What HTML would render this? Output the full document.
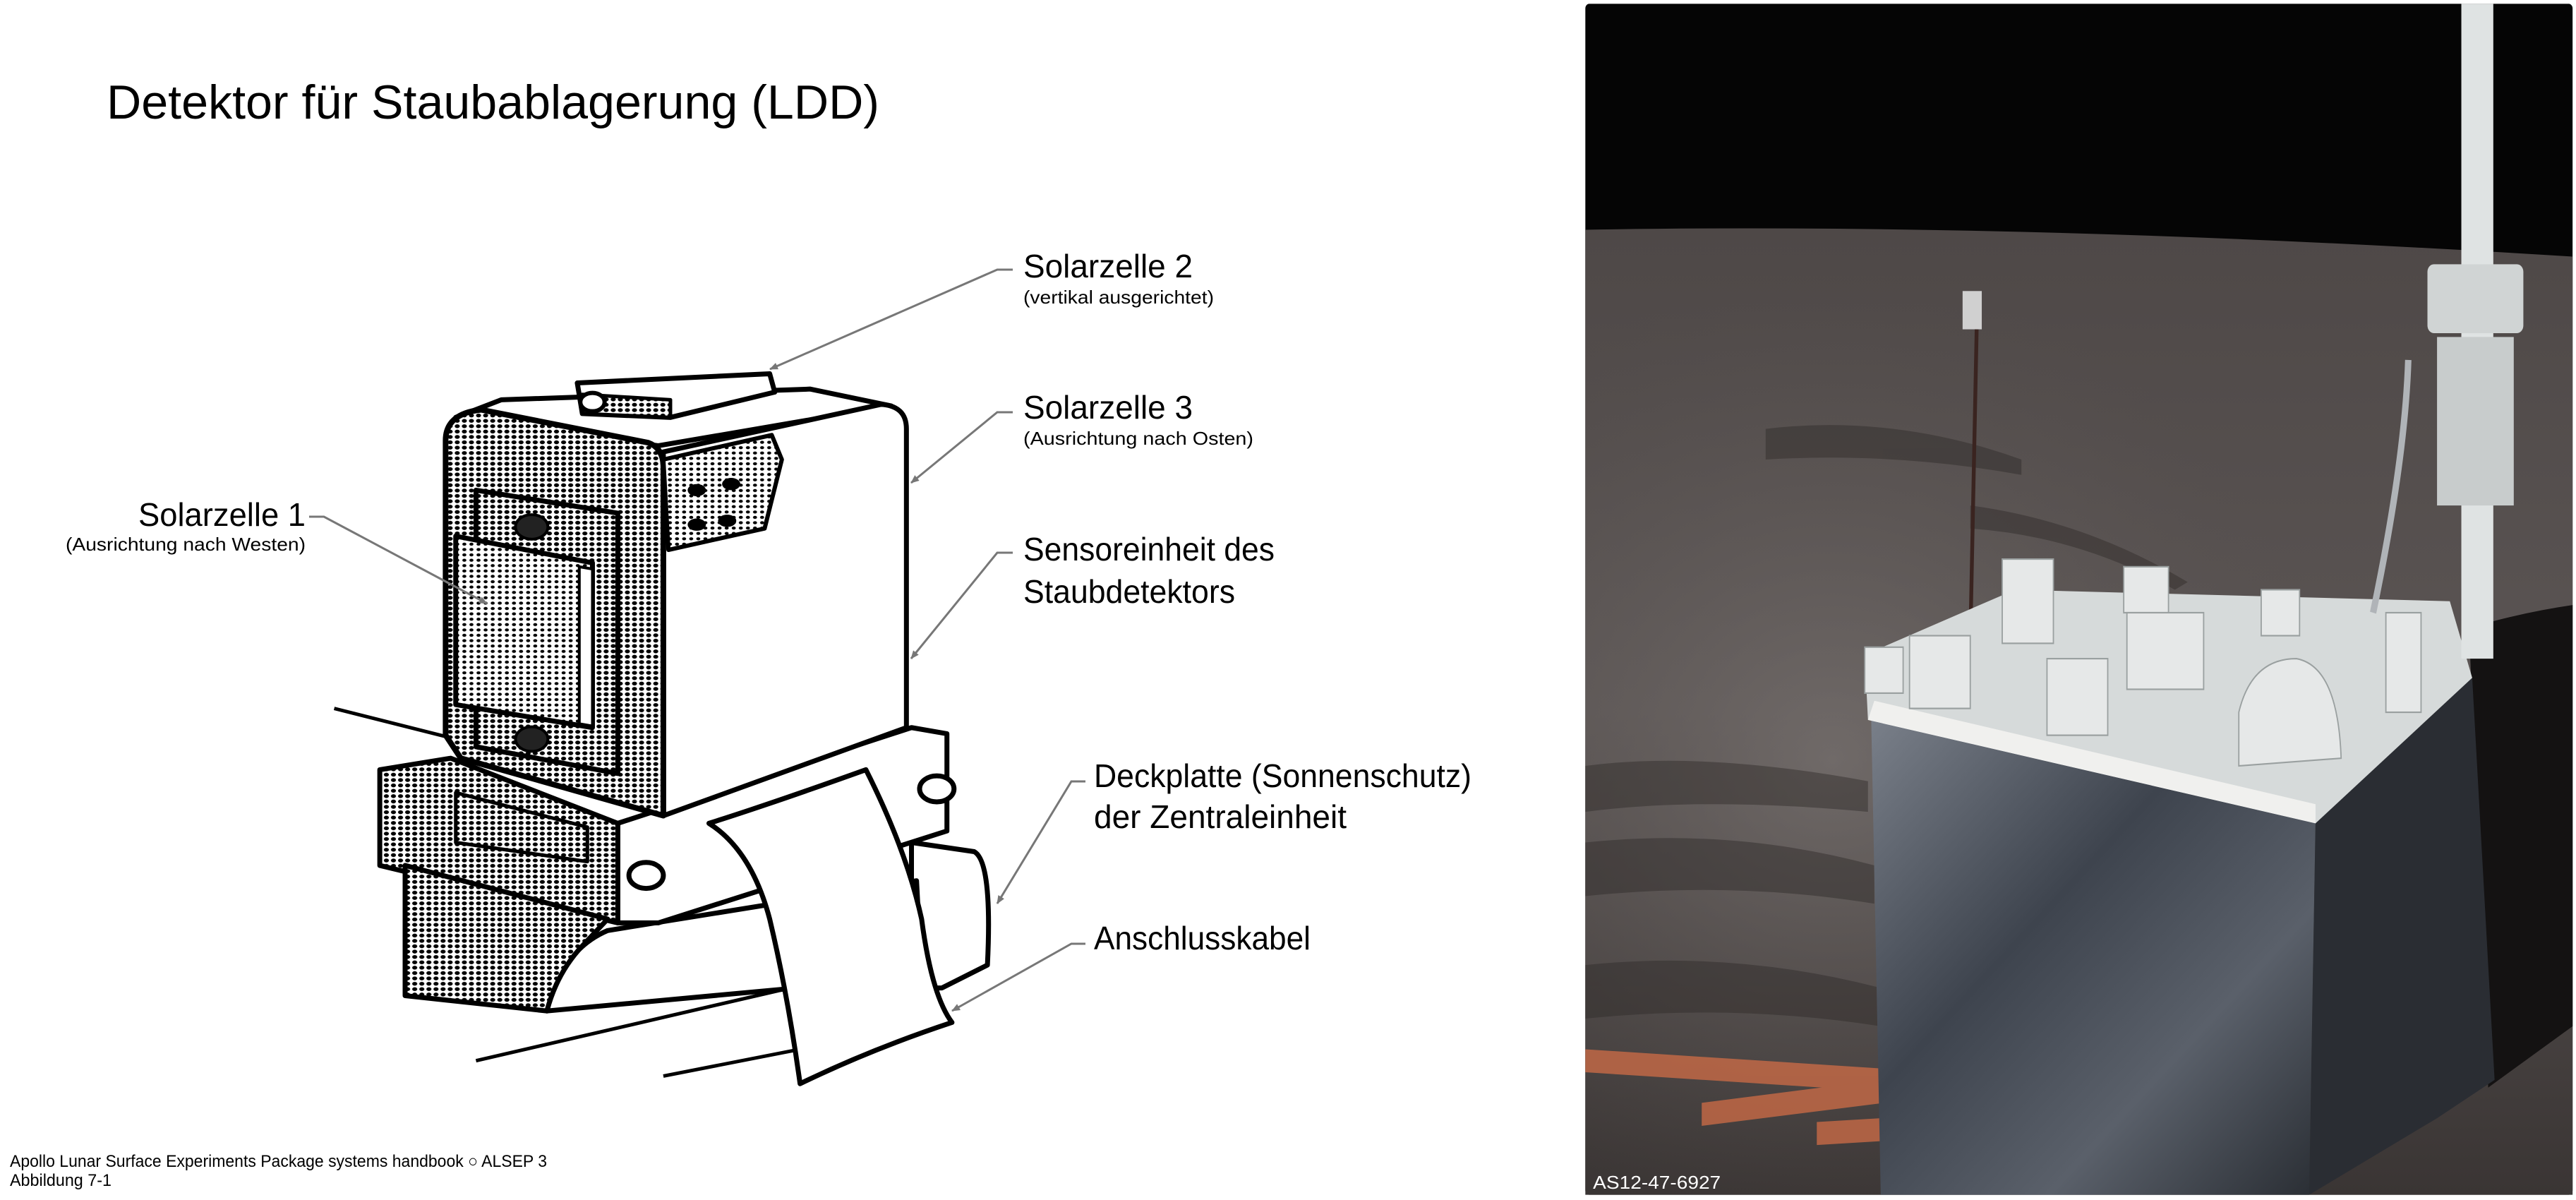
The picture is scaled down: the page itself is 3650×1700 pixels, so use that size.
<!DOCTYPE html>
<html><head><meta charset="utf-8"><style>
html,body{margin:0;padding:0;background:#fff;}
svg{display:block;}
text{font-family:"Liberation Sans",sans-serif;}
</style></head><body>
<svg width="3650" height="1700" viewBox="0 0 3650 1700" xmlns="http://www.w3.org/2000/svg">
<defs>
<pattern id="ht" width="7" height="7" patternUnits="userSpaceOnUse"><rect width="7" height="7" fill="#fff"/><circle cx="3.5" cy="3.5" r="2.5" fill="#000"/></pattern>
<pattern id="ht2" width="7" height="7" patternUnits="userSpaceOnUse"><rect width="7" height="7" fill="#fff"/><circle cx="3.5" cy="3.5" r="2" fill="#000"/></pattern>
<marker id="ar" markerWidth="12" markerHeight="10" refX="11" refY="5" orient="auto" markerUnits="userSpaceOnUse"><path d="M0,0 L12,5 L0,10 Z" fill="#777"/></marker>
<linearGradient id="gnd" x1="0" y1="0" x2="0" y2="1"><stop offset="0" stop-color="#4e4847"/><stop offset="0.5" stop-color="#5b5554"/><stop offset="1" stop-color="#3a3534"/></linearGradient>
<radialGradient id="lit" cx="0.25" cy="0.55" r="0.5"><stop offset="0" stop-color="#7a7472" stop-opacity="0.7"/><stop offset="1" stop-color="#5a5452" stop-opacity="0"/></radialGradient>
<linearGradient id="foil" x1="0" y1="0" x2="1" y2="1"><stop offset="0" stop-color="#7a808a"/><stop offset="0.4" stop-color="#3e444e"/><stop offset="0.7" stop-color="#5a606a"/><stop offset="1" stop-color="#2a2e34"/></linearGradient>
</defs>

<text x="151" y="168" font-size="68" textLength="1095" lengthAdjust="spacingAndGlyphs" fill="#000">Detektor für Staubablagerung (LDD)</text>

<g transform="scale(1.435,1.085)" stroke="#000" stroke-linejoin="round">
 <line x1="330" y1="925" x2="450" y2="965" stroke-width="5" vector-effect="non-scaling-stroke"/>
 <line x1="470" y1="1385" x2="780" y2="1290" stroke-width="5" vector-effect="non-scaling-stroke"/>
 <line x1="655" y1="1405" x2="790" y2="1370" stroke-width="5" vector-effect="non-scaling-stroke"/>
 <path d="M900,1100 L962,1112 Q980,1125 975,1260 L930,1290 L900,1290 Z" fill="#fff" stroke-width="7" vector-effect="non-scaling-stroke"/>
 <path d="M540,1320 Q555,1240 600,1215 L905,1150 L910,1275 Z" fill="#fff" stroke-width="7" vector-effect="non-scaling-stroke"/>
 <path d="M610,1075 L900,950 L935,958 L935,1085 L650,1205 L610,1205 Z" fill="#fff" stroke-width="7" vector-effect="non-scaling-stroke"/>
 <path d="M375,1005 L445,990 L610,1075 L610,1205 L375,1130 Z" fill="url(#ht)" stroke-width="7" vector-effect="non-scaling-stroke"/>
 <path d="M400,1130 L600,1200 L575,1235 Q550,1270 540,1320 L400,1300 Z" fill="url(#ht)" stroke-width="7" vector-effect="non-scaling-stroke"/>
 <path d="M450,1035 L580,1080 L580,1125 L450,1100 Z" fill="none" stroke-width="5" vector-effect="non-scaling-stroke"/>
 <path d="M495,522 L800,508 L880,530 L650,582 L450,545 Z" fill="#fff" stroke-width="7" vector-effect="non-scaling-stroke"/>
 <path d="M570,500 L760,488 L765,512 L662,545 L575,540 Z" fill="#fff" stroke-width="7" vector-effect="non-scaling-stroke"/>
 <path d="M575,515 L662,522 L662,545 L575,540 Z" fill="url(#ht)" stroke-width="5" vector-effect="non-scaling-stroke"/>
 <circle cx="585" cy="525" r="12" fill="#fff" stroke-width="6" vector-effect="non-scaling-stroke"/>
 <path d="M655,590 L870,528 Q895,530 895,560 L895,950 L655,1065 Z" fill="#fff" stroke-width="7" vector-effect="non-scaling-stroke"/>
 <path d="M440,960 L440,575 Q440,540 475,535 L640,578 Q655,585 655,610 L655,1065 L455,990 Z" fill="url(#ht)" stroke-width="8" vector-effect="non-scaling-stroke"/>
 <path d="M655,600 L762,568 L772,600 L755,690 L660,718 Z" fill="url(#ht2)" stroke-width="6" vector-effect="non-scaling-stroke"/>
 <g fill="#000" stroke="none"><ellipse cx="688" cy="640" rx="9" ry="8"/><ellipse cx="722" cy="632" rx="9" ry="8"/><ellipse cx="688" cy="685" rx="9" ry="8"/><ellipse cx="718" cy="680" rx="9" ry="8"/></g>
 <path d="M470,640 L610,670 L610,1010 L470,975 Z" fill="url(#ht)" stroke-width="7" vector-effect="non-scaling-stroke"/>
 <path d="M450,700 L585,735 L585,950 L450,920 Z" fill="url(#ht2)" stroke-width="7" vector-effect="non-scaling-stroke"/>
 <path d="M572,740 L585,743 L585,948 L572,945 Z" fill="#fff" stroke-width="4" vector-effect="non-scaling-stroke"/>
 <circle cx="525" cy="688" r="16" fill="#222" stroke-width="4" vector-effect="non-scaling-stroke"/>
 <circle cx="525" cy="965" r="16" fill="#222" stroke-width="4" vector-effect="non-scaling-stroke"/>
 <circle cx="638" cy="1143" r="17" fill="#fff" stroke-width="7" vector-effect="non-scaling-stroke"/>
 <circle cx="925" cy="1030" r="17" fill="#fff" stroke-width="7" vector-effect="non-scaling-stroke"/>
 <path d="M700,1075 Q760,1050 855,1005 Q895,1110 910,1200 Q920,1300 940,1335 Q860,1370 790,1415 Q778,1300 760,1200 Q742,1110 700,1075 Z" fill="#fff" stroke-width="7" vector-effect="non-scaling-stroke"/>
</g>

<g stroke="#777" stroke-width="3" fill="none">
 <polyline points="1435,382 1413,382 1091,523" marker-end="url(#ar)"/>
 <polyline points="1435,584 1413,584 1291,684" marker-end="url(#ar)"/>
 <polyline points="438,732 459,732 690,855" marker-end="url(#ar)"/>
 <polyline points="1435,783 1413,783 1291,933" marker-end="url(#ar)"/>
 <polyline points="1538,1107 1518,1107 1413,1280" marker-end="url(#ar)"/>
 <polyline points="1538,1337 1518,1337 1349,1432" marker-end="url(#ar)"/>
</g>

<g fill="#000">
 <text x="1450" y="393" font-size="46" textLength="240" lengthAdjust="spacingAndGlyphs">Solarzelle 2</text>
 <text x="1450" y="430" font-size="26" textLength="270" lengthAdjust="spacingAndGlyphs">(vertikal ausgerichtet)</text>
 <text x="1450" y="593" font-size="46" textLength="240" lengthAdjust="spacingAndGlyphs">Solarzelle 3</text>
 <text x="1450" y="630" font-size="26" textLength="326" lengthAdjust="spacingAndGlyphs">(Ausrichtung nach Osten)</text>
 <text x="196" y="745" font-size="46" textLength="237" lengthAdjust="spacingAndGlyphs">Solarzelle 1</text>
 <text x="93" y="780" font-size="26" textLength="340" lengthAdjust="spacingAndGlyphs">(Ausrichtung nach Westen)</text>
 <text x="1450" y="794" font-size="46" textLength="356" lengthAdjust="spacingAndGlyphs">Sensoreinheit des</text>
 <text x="1450" y="854" font-size="46" textLength="300" lengthAdjust="spacingAndGlyphs">Staubdetektors</text>
 <text x="1550" y="1115" font-size="46" textLength="535" lengthAdjust="spacingAndGlyphs">Deckplatte (Sonnenschutz)</text>
 <text x="1550" y="1173" font-size="46" textLength="358" lengthAdjust="spacingAndGlyphs">der Zentraleinheit</text>
 <text x="1550" y="1345" font-size="46" textLength="307" lengthAdjust="spacingAndGlyphs">Anschlusskabel</text>
 <text x="14" y="1653" font-size="24" textLength="761" lengthAdjust="spacingAndGlyphs">Apollo Lunar Surface Experiments Package systems handbook ○ ALSEP 3</text>
 <text x="14" y="1680" font-size="24" textLength="144" lengthAdjust="spacingAndGlyphs">Abbildung 7-1</text>
</g>

<g transform="translate(2230,0) scale(0.906,1.085)">
 <rect x="18" y="5" width="1544" height="1555" fill="#050505" rx="6"/>
 <path d="M18,300 Q700,290 1562,335 L1562,1560 L18,1560 Z" fill="url(#gnd)"/>
 <path d="M18,300 Q700,290 1562,335 L1562,1560 L18,1560 Z" fill="url(#lit)"/>
 <g fill="#2e2a29" opacity="0.45">
  <path d="M18,1000 Q200,980 460,1020 L460,1060 Q200,1040 18,1060 Z"/>
  <path d="M18,1100 Q250,1080 470,1130 L470,1180 Q250,1150 18,1170 Z"/>
  <path d="M18,1260 Q250,1240 480,1290 L480,1340 Q250,1310 18,1330 Z"/>
  <path d="M300,560 Q500,540 700,600 L700,620 Q500,590 300,600 Z"/>
  <path d="M620,660 Q800,680 960,760 L940,770 Q790,700 620,690 Z"/>
 </g>
 <path d="M1400,820 Q1480,800 1562,790 L1562,1340 L1430,1420 Z" fill="#141212"/>
 <g fill="#c86a46" opacity="0.8">
  <path d="M18,1370 L480,1395 L480,1425 L18,1400 Z"/>
  <path d="M200,1440 L480,1410 L485,1440 L200,1470 Z"/>
  <path d="M380,1465 L480,1460 L480,1490 L380,1495 Z"/>
 </g>
 <rect x="608" y="380" width="30" height="50" fill="#d0d0d0"/>
 <line x1="630" y1="430" x2="620" y2="840" stroke="#3a2420" stroke-width="6"/>
 <path d="M465,935 L1160,1070 L1150,1560 L480,1560 Z" fill="url(#foil)"/>
 <path d="M1160,1070 L1405,885 L1440,1410 L1350,1460 L1150,1560 Z" fill="#2a2d33"/>
 <path d="M455,855 L690,770 L1370,785 L1405,885 L1160,1075 L460,940 Z" fill="#d6dada"/>
 <path d="M460,940 L1160,1075 L1160,1050 L470,915 Z" fill="#f0f0ee"/>
 <g fill="#e6e8e8" stroke="#9aa0a0" stroke-width="2">
  <rect x="525" y="830" width="95" height="95"/>
  <rect x="455" y="845" width="60" height="60"/>
  <rect x="670" y="730" width="80" height="110"/>
  <rect x="740" y="860" width="95" height="100"/>
  <rect x="860" y="740" width="70" height="60"/>
  <rect x="865" y="800" width="120" height="100"/>
  <path d="M1040,930 Q1060,860 1130,860 Q1195,870 1200,990 L1040,1000 Z"/>
  <rect x="1270" y="800" width="55" height="130"/>
  <rect x="1075" y="770" width="60" height="60"/>
 </g>
 <rect x="1388" y="5" width="50" height="855" fill="#dfe3e3"/>
 <rect x="1335" y="345" width="150" height="90" fill="#d0d4d4" rx="10"/>
 <rect x="1350" y="440" width="120" height="220" fill="#c8cccc"/>
 <path d="M1305,470 Q1300,600 1250,800" stroke="#b0b4b8" stroke-width="10" fill="none"/>
 <text x="30" y="1553" font-size="26" fill="#fff" transform="scale(1.1037,0.9217) translate(-2.8,131)" textLength="181" lengthAdjust="spacingAndGlyphs">AS12-47-6927</text>
</g>
</svg>
</body></html>
